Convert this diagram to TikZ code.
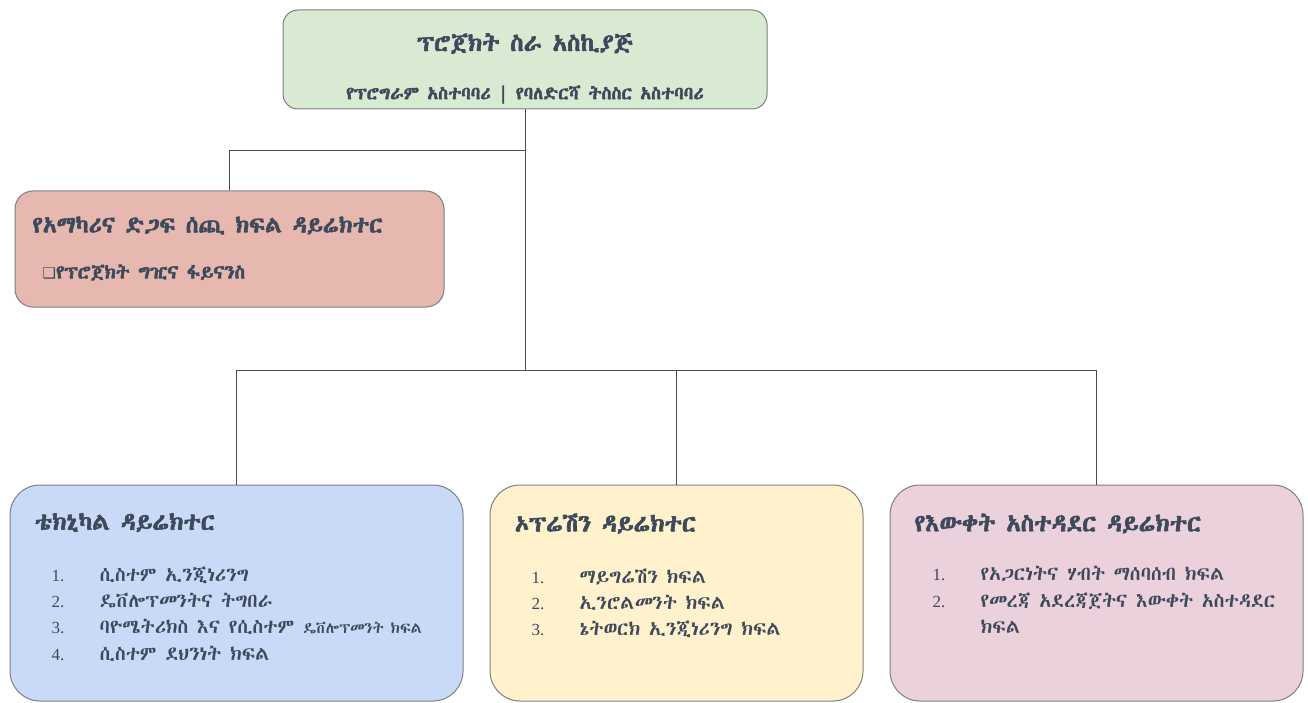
\documentclass[tikz,border=0pt]{standalone}
\usepackage{fontspec}
\usepackage{xcolor}
\usetikzlibrary{positioning, calc}
\IfFontExistsTF{FreeSerif.otf}
  {\newfontfamily\etiope{FreeSerif.otf}[BoldFont=FreeSerif.otf, BoldFeatures={FakeBold=2.5}]}
  {\IfFontExistsTF{Abyssinica SIL}
     {\newfontfamily\etiope{Abyssinica SIL}[BoldFont=Abyssinica SIL, BoldFeatures={FakeBold=2.5}]}
     {\newfontfamily\etiope{DejaVu Sans}}}
\newfontfamily\simbolo{DejaVu Sans}
\newfontfamily\numeros{Liberation Serif}
\definecolor{verde}{HTML}{D9EAD3}
\definecolor{rosa}{HTML}{E6B8AF}
\definecolor{azul}{HTML}{C9DAF8}
\definecolor{amarelo}{HTML}{FFF2CC}
\definecolor{lilas}{HTML}{EAD1DC}
\definecolor{borda}{HTML}{7F7F7F}
\definecolor{texto}{HTML}{3E4A5B}
\newcommand{\nro}[1]{\makebox[48pt][l]{\numeros\fontsize{17}{20}\selectfont #1}}

\begin{document}
\begin{tikzpicture}[
    x=1pt, y=-1pt,
    caixa/.style={draw=borda, line width=1pt, inner sep=0pt},
    titulo/.style={font=\etiope\bfseries\fontsize{24}{28}\selectfont, text=texto, inner sep=0pt},
    subtitulo/.style={font=\etiope\bfseries\fontsize{18}{22}\selectfont, text=texto, inner sep=0pt},
    lista/.style={font=\etiope\fontsize{19.5}{26.3}\selectfont, text=texto, align=left, inner sep=0pt},
    ligacao/.style={draw=black!70, line width=1pt}
  ]
    \useasboundingbox[fill=white] (0,0) rectangle (1308,703);

    % --- Topo: gerente do projeto ---
    \node[caixa, fill=verde, rounded corners=15pt, minimum width=484pt, minimum height=99pt] (pm) at (525,59.5) {};
    \node[titulo] (pm-t) at ($(pm.north)+(0,34)$) {ፕሮጀክት ስራ አስኪያጅ};
    \node[subtitulo] (pm-s) at ($(pm.north)+(0,85)$) {የፕሮግራም አስተባባሪ | የባለድርሻ ትስስር አስተባባሪ};

    % --- Apoio ---
    \node[caixa, fill=rosa, rounded corners=18pt, minimum width=429pt, minimum height=116pt] (apoio) at (229.5,249) {};
    \node[titulo, anchor=west, font=\etiope\bfseries\fontsize{23}{27}\selectfont] (apoio-t) at ($(apoio.north west)+(18,35)$) {የአማካሪና ድጋፍ ሰጪ ክፍል ዳይሬክተር};
    \node[subtitulo, anchor=west, font=\etiope\bfseries\fontsize{19}{22}\selectfont] (apoio-s) at ($(apoio.north west)+(28,82)$) {{\simbolo\mdseries\fontsize{15}{18}\selectfont ❑}የፕሮጀክት ግዢና ፋይናንስ};

    % --- Diretorias ---
    \node[caixa, fill=azul, rounded corners=30pt, minimum width=453pt, minimum height=216pt] (tec) at (236.5,593) {};
    \node[titulo, anchor=west] (tec-t) at ($(tec.north west)+(25,38)$) {ቴክኒካል ዳይሬክተር};
    \node[lista, anchor=north west] (tec-l) at ($(tec.north west)+(42,82)$)
      {\nro{1.}ሲስተም ኢንጂነሪንግ\\
       \nro{2.}ዴቨሎፕመንትና ትግበራ\\
       \nro{3.}ባዮሜትሪክስ እና የሲስተም {\fontsize{15.5}{26.3}\selectfont ዴቨሎፕመንት ክፍል}\\
       \nro{4.}ሲስተም ደህንነት ክፍል};

    \node[caixa, fill=amarelo, rounded corners=30pt, minimum width=373pt, minimum height=216pt] (ope) at (676.5,593) {};
    \node[titulo, anchor=west] (ope-t) at ($(ope.north west)+(25,39)$) {ኦፕሬሽን ዳይሬክተር};
    \node[lista, anchor=north west] (ope-l) at ($(ope.north west)+(42,84)$)
      {\nro{1.}ማይግሬሽን ክፍል\\
       \nro{2.}ኢንሮልመንት ክፍል\\
       \nro{3.}ኔትወርክ ኢንጂነሪንግ ክፍል};

    \node[caixa, fill=lilas, rounded corners=30pt, minimum width=413pt, minimum height=216pt] (con) at (1096.5,593) {};
    \node[titulo, anchor=west] (con-t) at ($(con.north west)+(25,39)$) {የእውቀት አስተዳደር ዳይሬክተር};
    \node[lista, anchor=north west] (con-l) at ($(con.north west)+(43,82)$)
      {\nro{1.}የአጋርነትና ሃብት ማሰባሰብ ክፍል\\
       \nro{2.}የመረጃ አደረጃጀትና እውቀት አስተዳደር\\
       \hspace*{48pt}ክፍል};

    % --- Ligações ---
    \coordinate (ramo) at ($(pm.south)+(0,41)$);
    \coordinate (barra) at ($(pm.south)+(0,261)$);
    \draw[ligacao] (pm.south) -- (barra);
    \draw[ligacao] (ramo) -| (apoio.north);
    \draw[ligacao] (tec.north) |- (barra) -| (con.north);
    \draw[ligacao] (ope.north) -- (ope.north |- barra);

  \end{tikzpicture}
\end{document}
